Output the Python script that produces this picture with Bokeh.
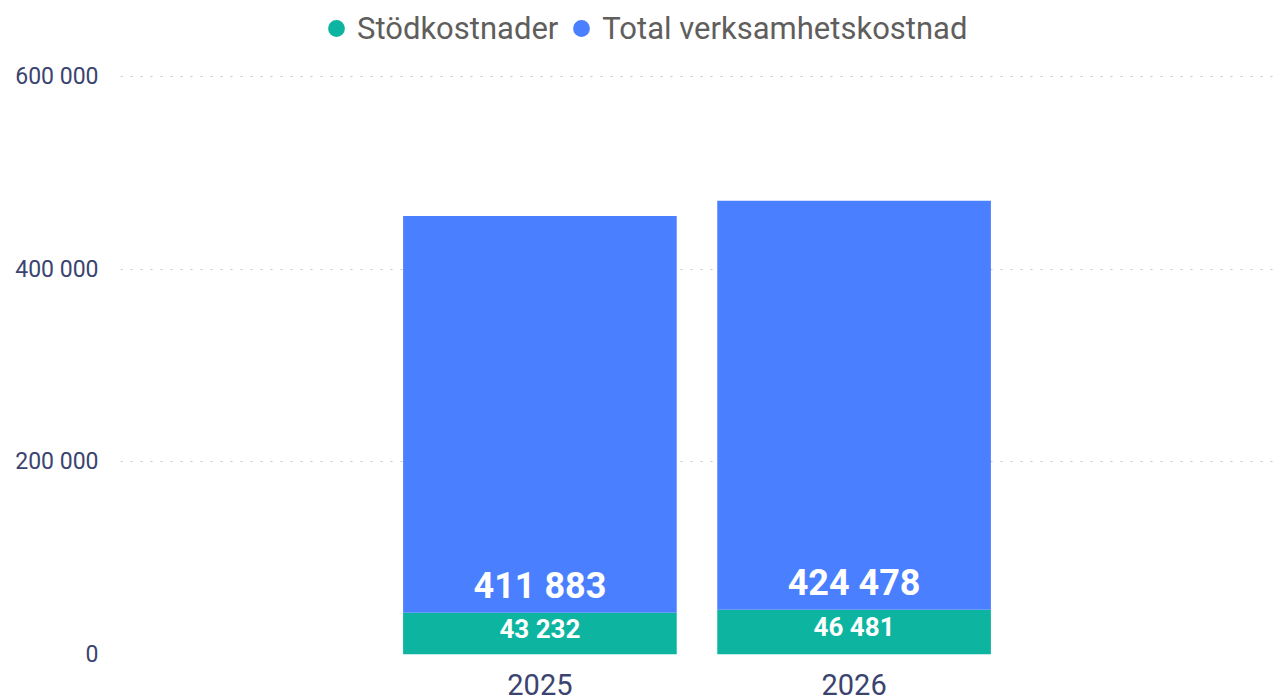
from bokeh.plotting import figure
from bokeh.models import ColumnDataSource, FactorRange, Range1d, FixedTicker, Legend, LegendItem
from bokeh.core.properties import value
from bokeh.embed import file_html
from bokeh.resources import INLINE

years = ["2025", "2026"]
stod = [43232, 46481]
total = [411883, 424478]
series = ["Stödkostnader", "Total verksamhetskostnad"]
colors = ["#0db5a0", "#4a7fff"]
y_ticks = [0, 200000, 400000, 600000]
y_tick_labels = ["0", "200 000", "400 000", "600 000"]


def fmt(v):
    return f"{v:,}".replace(",", " ")


src = ColumnDataSource(dict(
    year=years,
    stod=stod,
    total=total,
    stod_mid=[s / 2 for s in stod],
    stod_lbl=[fmt(s) for s in stod],
    total_lbl=[fmt(t) for t in total],
))

FONT = "Roboto"

p = figure(
    width=1273, height=700,
    x_range=FactorRange(*years, range_padding=0.835, range_padding_units="absolute"),
    y_range=Range1d(0, 678893),
    output_backend="svg", toolbar_location=None,
    min_border_left=120, min_border_right=0, min_border_top=0, min_border_bottom=46,
)
p.outline_line_color = None
p.background_fill_color = "white"
p.border_fill_color = "white"

renderers = p.vbar_stack(["stod", "total"], x="year", width=0.871, color=colors, source=src,
                         line_color=None)

p.text(x="year", y="stod", text="total_lbl", source=src, y_offset=-27,
       text_align="center", text_baseline="alphabetic", text_color="white",
       text_font=value(FONT), text_font_style="bold", text_font_size="36px")
p.text(x="year", y="stod_mid", text="stod_lbl", source=src, y_offset=-5,
       text_align="center", text_baseline="middle", text_color="white",
       text_font=value(FONT), text_font_style="bold", text_font_size="26px")

# legend markers: zero-size circles that only serve as legend glyphs
dummy = []
for c in colors:
    r = p.scatter(x="year", y="stod", source=src, marker="circle", size=0,
                  fill_color=c, line_color=None)
    dummy.append(r)

legend = Legend(items=[LegendItem(label=s, renderers=[r]) for s, r in zip(series, dummy)],
                orientation="horizontal", location=(195, 605),
                border_line_color=None, background_fill_alpha=0,
                label_text_font=FONT, label_text_font_size="31px", label_text_color="#605e5c",
                glyph_width=42, glyph_height=42, spacing=2, label_standoff=0,
                padding=0, margin=0)
p.add_layout(legend, "center")

# axes
p.yaxis.ticker = FixedTicker(ticks=y_ticks)
p.yaxis.major_label_overrides = {t: l for t, l in zip(y_ticks, y_tick_labels)}
for ax in (p.xaxis, p.yaxis):
    ax.axis_line_color = None
    ax.major_tick_line_color = None
    ax.minor_tick_line_color = None
    ax.major_label_text_color = "#3b4470"
    ax.major_label_text_font = FONT
p.yaxis.major_label_text_font_size = "23px"
p.yaxis.major_label_standoff = 16
p.xaxis.major_label_text_font_size = "29px"
p.xaxis.major_label_standoff = 13

p.xgrid.grid_line_color = None
p.ygrid.ticker = FixedTicker(ticks=y_ticks)
p.ygrid.grid_line_color = "#c8c6c4"
p.ygrid.grid_line_dash = "2 8"
p.ygrid.grid_line_width = 1

open("out.html", "w").write(file_html(p, INLINE))
